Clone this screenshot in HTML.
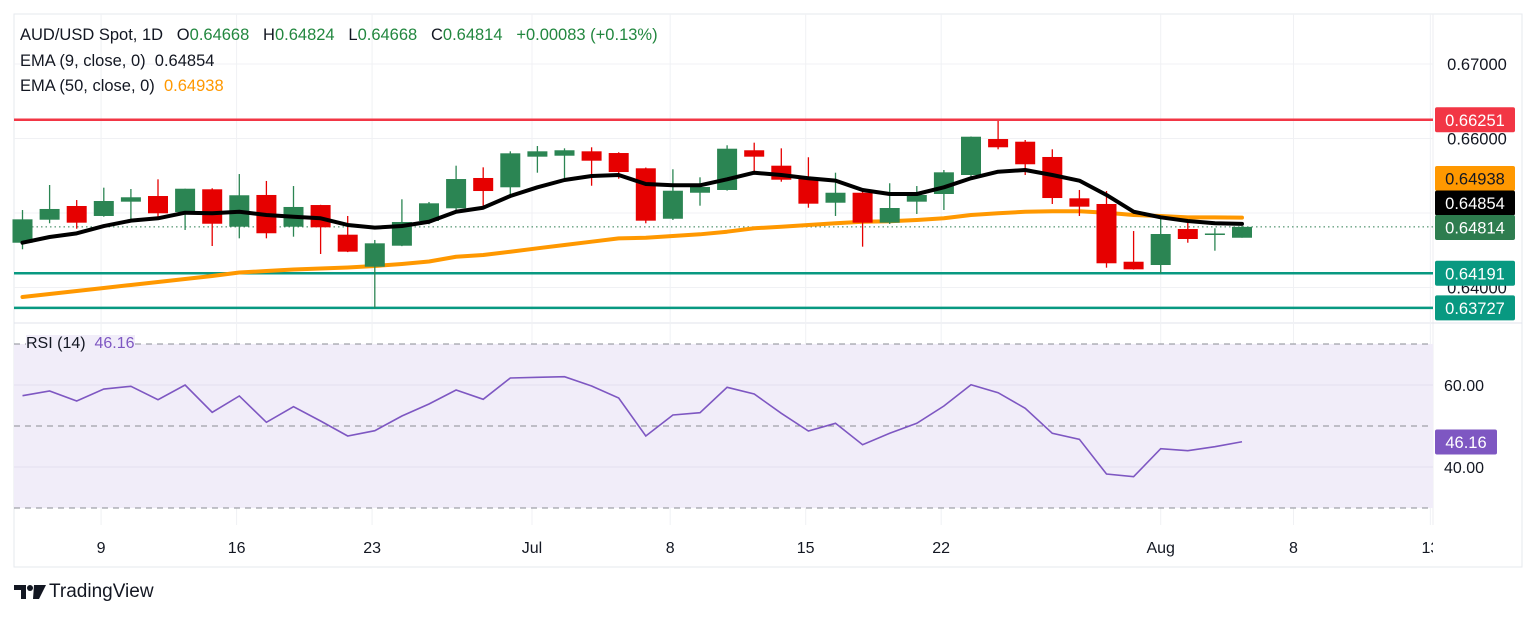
<!DOCTYPE html>
<html><head><meta charset="utf-8"><style>
body{margin:0;background:#fff;width:1536px;height:617px;overflow:hidden;font-family:"Liberation Sans",sans-serif}
svg text{font-family:"Liberation Sans",sans-serif}
</style></head><body>
<svg id="chart" width="1536" height="617" xmlns="http://www.w3.org/2000/svg"></svg>
<script>
const opens=[0.64601,0.64910,0.65094,0.64960,0.65152,0.65228,0.65013,0.65318,0.64816,0.65242,0.64816,0.65107,0.64709,0.64279,0.64561,0.64893,0.65063,0.65470,0.65345,0.65756,0.65769,0.65828,0.65805,0.65600,0.64923,0.65272,0.65309,0.65842,0.65635,0.65470,0.65138,0.65272,0.64870,0.65152,0.65255,0.65510,0.65993,0.65957,0.65752,0.65197,0.65121,0.64346,0.64302,0.64785,0.64711,0.64668];
const highs=[0.65040,0.65376,0.65174,0.65340,0.65322,0.65452,0.65326,0.65332,0.65523,0.65430,0.65362,0.65110,0.64960,0.64638,0.65184,0.65148,0.65635,0.65613,0.65828,0.65899,0.65868,0.65882,0.65815,0.65610,0.65587,0.65479,0.65909,0.65944,0.65868,0.65748,0.65541,0.65318,0.65399,0.65362,0.65577,0.66027,0.66235,0.65980,0.65855,0.65309,0.65295,0.64758,0.64929,0.64893,0.64795,0.64824];
const lows=[0.64513,0.64862,0.64789,0.64950,0.64897,0.64950,0.64772,0.64557,0.64660,0.64660,0.64682,0.64450,0.64475,0.63721,0.64555,0.64848,0.65040,0.65085,0.65242,0.65541,0.65433,0.65366,0.65460,0.64862,0.64906,0.65098,0.65300,0.65554,0.65420,0.65071,0.64960,0.64548,0.64852,0.64987,0.65040,0.65487,0.65855,0.65510,0.65121,0.64960,0.64266,0.64240,0.64191,0.64601,0.64494,0.64668];
const closes=[0.64915,0.65054,0.64870,0.65161,0.65211,0.64996,0.65326,0.64856,0.65238,0.64728,0.65081,0.64808,0.64481,0.64593,0.64879,0.65130,0.65456,0.65295,0.65801,0.65828,0.65842,0.65702,0.65550,0.64897,0.65299,0.65349,0.65863,0.65756,0.65447,0.65125,0.65272,0.64870,0.65067,0.65242,0.65546,0.66024,0.65882,0.65654,0.65201,0.65085,0.64325,0.64244,0.64718,0.64651,0.64725,0.64814];
const ema9=[0.64601,0.64678,0.64727,0.64825,0.64897,0.64929,0.65004,0.64996,0.65017,0.64973,0.64950,0.64929,0.64839,0.64803,0.64825,0.64883,0.65017,0.65071,0.65228,0.65345,0.65443,0.65497,0.65510,0.65389,0.65372,0.65372,0.65452,0.65541,0.65510,0.65466,0.65434,0.65309,0.65255,0.65255,0.65345,0.65466,0.65554,0.65577,0.65510,0.65434,0.65242,0.65017,0.64942,0.64893,0.64862,0.64854];
const ema50=[0.63872,0.63913,0.63953,0.63993,0.64034,0.64074,0.64114,0.64154,0.64201,0.64221,0.64242,0.64255,0.64268,0.64289,0.64315,0.64349,0.64413,0.64436,0.64480,0.64526,0.64570,0.64615,0.64660,0.64668,0.64691,0.64714,0.64749,0.64795,0.64816,0.64839,0.64862,0.64883,0.64889,0.64906,0.64929,0.64973,0.64996,0.65017,0.65023,0.65023,0.65004,0.64973,0.64960,0.64942,0.64942,0.64938];
const rsi=[57.39,58.54,56.10,59.02,59.68,56.41,60.00,53.34,57.32,50.90,54.71,51.22,47.56,48.85,52.44,55.37,58.78,56.51,61.71,61.88,62.02,59.76,56.83,47.56,52.68,53.24,59.44,57.80,53.10,48.78,50.66,45.44,48.22,50.66,54.88,60.07,58.12,54.32,48.22,46.76,38.29,37.63,44.46,43.98,44.95,46.16];
const priceTicks=[0.67,0.66,0.65,0.64];
const priceTickLabels=["0.67000","0.66000","0.65000","0.64000"];
const rsiTicks=[60,40];
const rsiTickLabels=["60.00","40.00"];
const dateLabels=["9","16","23","Jul","8","15","22","Aug","8","13"];
const dateIdx=[2.9,7.9,12.9,18.8,23.9,28.9,33.9,42,46.9,51.95];
const levels=[0.66251,0.64191,0.63727];
const levelLabels=["0.66251","0.64191","0.63727"];

const NS="http://www.w3.org/2000/svg";
const svg=document.getElementById('chart');
const L=14,R=1433,AX=1522;
const yP=p=>64+(0.67-p)*7450;
const xI=i=>22.5+i*27.1;
const yR=v=>426-(v-50)*4.1;
function mk(tag,attrs,parent,txt){const e=document.createElementNS(NS,tag);for(const k in attrs)e.setAttribute(k,attrs[k]);if(txt!==undefined)e.textContent=txt;(parent||svg).appendChild(e);return e;}

mk('defs',{}).innerHTML='<clipPath id="plotclip"><rect x="14" y="0" width="1419" height="617"/></clipPath>';
let fr=mk('rect',{x:L,y:14,width:AX-L,height:553,fill:'none',stroke:'#e6e8ee'});


mk('line',{x1:R,y1:14,x2:R,y2:525,stroke:'#eceef2'});
mk('line',{x1:L,y1:323,x2:AX,y2:323,stroke:'#e0e3eb'});
dateIdx.forEach(d=>{const x=xI(d);if(x<R)mk('line',{x1:x,y1:14,x2:x,y2:525,stroke:'#f0f1f4'});});
priceTicks.forEach((p,k)=>{mk('line',{x1:L,y1:yP(p),x2:R,y2:yP(p),stroke:'#f0f1f4'});
 const t=mk('text',{x:1477,y:yP(p)+6,'font-size':16.5,'text-anchor':'middle',fill:'#131722'},null,priceTickLabels[k]);
 
 });
let band=mk('rect',{x:L,y:yR(70),width:R-L,height:yR(30)-yR(70),fill:'#f1edf9'});


rsiTicks.forEach((v,k)=>{mk('line',{x1:L,y1:yR(v),x2:R,y2:yR(v),stroke:'#e4e0ee'});
 const t=mk('text',{x:1464,y:yR(v)+6,'font-size':16,'text-anchor':'middle',fill:'#131722'},null,rsiTickLabels[k]);
 
 });
[70,50,30].forEach(v=>mk('line',{x1:L,y1:yR(v),x2:R,y2:yR(v),stroke:'#8a8d94','stroke-dasharray':'6,5'}));
const dg=mk('g',{'clip-path':'url(#plotclip)'});
dateLabels.forEach((s,k)=>{const t=mk('text',{x:xI(dateIdx[k]),y:553,'font-size':16,'text-anchor':'middle',fill:'#131722'},dg,s);
 
 });
const lvlCol=['#f23645','#089981','#089981'];
levels.forEach((p,k)=>{const ln=mk('line',{x1:L,y1:yP(p),x2:R,y2:yP(p),stroke:lvlCol[k],'stroke-width':2.5});
 
 });
mk('line',{x1:L,y1:yP(closes[closes.length-1]),x2:R,y2:yP(closes[closes.length-1]),stroke:'#2e7d52','stroke-dasharray':'1.5,3'});
let pts=ema50.map((v,i)=>xI(i)+','+yP(v)).join(' ');
let e50=mk('polyline',{points:pts,fill:'none',stroke:'#ff9800','stroke-width':4,'stroke-linejoin':'round','stroke-linecap':'round'});


opens.forEach((o,i)=>{const c=closes[i],up=c>=o,col=up?'#2b8553':'#e60000';const x=xI(i);
 const g=mk('g',{});
 
 
 mk('line',{x1:x,y1:yP(highs[i]),x2:x,y2:yP(lows[i]),stroke:col,'stroke-width':1.3},g);
 const top=yP(Math.max(o,c)),bot=yP(Math.min(o,c));
 mk('rect',{x:x-10,y:top,width:20,height:Math.max(1.5,bot-top),fill:col},g);});
pts=ema9.map((v,i)=>xI(i)+','+yP(v)).join(' ');
let e9=mk('polyline',{points:pts,fill:'none',stroke:'#000','stroke-width':4,'stroke-linejoin':'round','stroke-linecap':'round'});


pts=rsi.map((v,i)=>xI(i)+','+yR(v)).join(' ');
let rl=mk('polyline',{points:pts,fill:'none',stroke:'#7e57c2','stroke-width':1.6});


function box(p,txt,bg,fg,name,w,yc){const y=yc!==undefined?yc:yP(p);
 const g=mk('g',{});
 
 
 mk('rect',{x:1435,y:y-12.5,width:w||80,height:25,rx:2,fill:bg},g);
 mk('text',{x:1435+(w||80)/2,y:y+6,'font-size':16.5,'text-anchor':'middle',fill:fg},g,txt);}
box(levels[0],levelLabels[0],'#f23645','#fff','resistance-label');
box(0,'0.64938','#ff9800','#131722','ema50-label',80,178.5);
box(0,'0.64854','#000','#fff','ema9-label',80,203);
box(0,'0.64814','#2e7d4f','#fff','last-price-label',80,227.5);
box(levels[1],levelLabels[1],'#089981','#fff','support1-label');
box(levels[2],levelLabels[2],'#089981','#fff','support2-label');
box(0,'46.16','#7e57c2','#fff','rsi-value-label',62,442);
</script>
<div style="position:absolute;left:20px;top:23px;font-size:16.5px;line-height:25.5px;color:#131722;white-space:nowrap">
<div>AUD/USD Spot, 1D&nbsp;&nbsp; O<span style="color:#22873f">0.64668</span>&nbsp;&nbsp; H<span style="color:#22873f">0.64824</span>&nbsp;&nbsp; L<span style="color:#22873f">0.64668</span>&nbsp;&nbsp; C<span style="color:#22873f">0.64814</span>&nbsp;&nbsp; <span style="color:#22873f">+0.00083 (+0.13%)</span></div>
<div>EMA (9, close, 0)&nbsp; 0.64854</div>
<div>EMA (50, close, 0)&nbsp; <span style="color:#ff9800">0.64938</span></div>
</div>
<div style="position:absolute;left:26px;top:335px;font-size:16px;color:#131722;background:#f1edf9">RSI (14)&nbsp; <span style="color:#7e57c2">46.16</span></div>
<div style="position:absolute;left:14px;top:581px;display:flex;align-items:center">
<svg width="32" height="20" viewBox="0 0 32 20"><path d="M0 3h12v14H7V8H0z M20 3h12l-7 14h-6z" fill="#131722"/><circle cx="16" cy="6" r="3" fill="#131722"/></svg>
<span style="font-size:19px;color:#131722;margin-left:3px">TradingView</span></div>
</body></html>
